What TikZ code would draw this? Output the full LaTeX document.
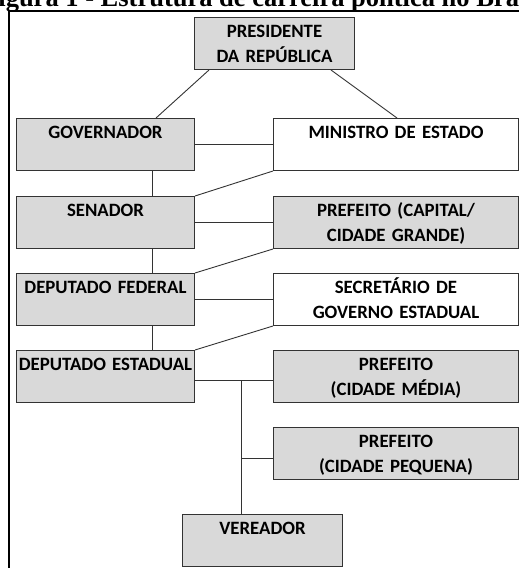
\documentclass[tikz,border=0pt]{standalone}
\usepackage{fontspec}
\setmainfont{Carlito}
\newfontfamily\titlefont{Liberation Serif}
\definecolor{boxgray}{HTML}{D9D9D9}
\definecolor{edge}{HTML}{333333}
\begin{document}
\begin{tikzpicture}[x=1pt,y=-1pt,
  stepbox/.style={draw=edge, line width=1pt, inner sep=0pt, anchor=north west, align=center,
    text height=20pt, text depth=32pt, font=\fontsize{18.8}{25}\selectfont\bfseries, text=black},
  graybox/.style={stepbox, fill=boxgray},
  whitebox/.style={stepbox, fill=white},
  link/.style={draw=edge, line width=0.9pt}]
\useasboundingbox (0,0) rectangle (519,568);
\clip (0,0) rectangle (519,568);
\node[anchor=base west, inner sep=0pt, font=\titlefont\fontsize{26.5}{30}\selectfont\bfseries] (title) at (-18,6) {Figura 1 - Estrutura de carreira política no Brasil};
\draw[line width=1.8pt] (9,600) -- (9,11) -- (560,11);
% boxes
\node[graybox, text width=160pt] (pres) at (194,17) {PRESIDENTE\\DA REPÚBLICA};
\node[graybox, text width=178pt] (gov) at (16,118) {GOVERNADOR};
\node[whitebox, text width=245pt] (min) at (273,118) {MINISTRO DE ESTADO};
\node[graybox, text width=178pt] (sen) at (16,196) {SENADOR};
\node[graybox, text width=245pt] (pc) at (273,196) {PREFEITO (CAPITAL/\\CIDADE GRANDE)};
\node[graybox, text width=178pt] (dfed) at (16,273) {DEPUTADO FEDERAL};
\node[whitebox, text width=245pt] (sec) at (273,273) {SECRETÁRIO DE\\GOVERNO ESTADUAL};
\node[graybox, text width=178pt] (dest) at (16,350) {DEPUTADO ESTADUAL};
\node[graybox, text width=245pt] (med) at (273,350) {PREFEITO\\(CIDADE MÉDIA)};
\node[graybox, text width=245pt] (peq) at (273,427) {PREFEITO\\(CIDADE PEQUENA)};
\node[graybox, text width=160pt] (ver) at (182,514) {VEREADOR};
% connectors
\draw[link] ([xshift=15pt]pres.south west) -- ([xshift=140pt]gov.north west);
\draw[link] ([xshift=-24pt]pres.south east) -- ([xshift=124pt]min.north west);
\draw[link] (gov.east) -- (min.west);
\draw[link] ([xshift=136pt]gov.south west) -- ([xshift=136pt]sen.north west);
\draw[link] (min.south west) -- (sen.north east);
\draw[link] (sen.east) -- (pc.west);
\draw[link] ([xshift=136pt]sen.south west) -- ([xshift=136pt]dfed.north west);
\draw[link] (pc.south west) -- (dfed.north east);
\draw[link] (dfed.east) -- (sec.west);
\draw[link] ([xshift=136pt]dfed.south west) -- ([xshift=136pt]dest.north west);
\draw[link] (sec.south west) -- (dest.north east);
\coordinate (j1) at (241,380);
\coordinate (j2) at (241,458);
\draw[link] (dest.east |- j1) -- (med.west |- j1);
\draw[link] (j1) -- (j1 |- ver.north);
\draw[link] (j2) -- (peq.west |- j2);
\end{tikzpicture}
\end{document}
